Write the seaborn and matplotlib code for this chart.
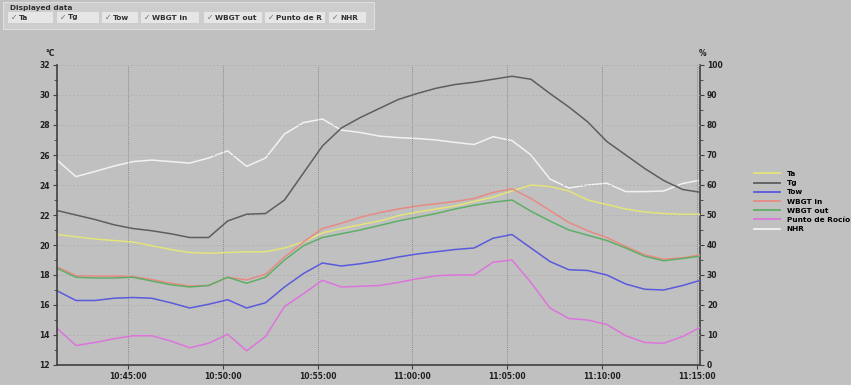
import numpy as np
import pandas as pd
import matplotlib
matplotlib.use("Agg")
import matplotlib.pyplot as plt
import matplotlib.dates as mdates
from matplotlib.lines import Line2D
from matplotlib.patches import Rectangle
import seaborn as sns

# Time axis: one reading per minute
times = pd.date_range("2020-01-01 10:41:15", "2020-01-01 11:15:15", freq="1min")

ta = [20.7, 20.55, 20.4, 20.3, 20.2, 19.95, 19.7, 19.5, 19.45, 19.5, 19.55, 19.55,
      19.8, 20.2, 20.8, 21.1, 21.35, 21.6, 21.95, 22.2, 22.4, 22.6, 22.9, 23.2,
      23.6, 24.0, 23.9, 23.6, 23.0, 22.7, 22.4, 22.2, 22.1, 22.05, 22.05]
tg = [22.3, 22.0, 21.7, 21.35, 21.1, 20.95, 20.75, 20.5, 20.5, 21.6, 22.05, 22.1,
      23.0, 24.8, 26.6, 27.8, 28.5, 29.1, 29.7, 30.1, 30.45, 30.7, 30.85, 31.05,
      31.25, 31.05, 30.1, 29.2, 28.2, 26.9, 26.0, 25.1, 24.3, 23.7, 23.5]
tow = [16.95, 16.3, 16.3, 16.45, 16.5, 16.45, 16.15, 15.8, 16.05, 16.35, 15.8, 16.15,
       17.2, 18.1, 18.8, 18.6, 18.75, 18.95, 19.2, 19.4, 19.55, 19.7, 19.8, 20.45,
       20.7, 19.8, 18.9, 18.35, 18.3, 18.0, 17.4, 17.05, 17.0, 17.3, 17.67]
wbgt_in = [18.55, 17.95, 17.93, 17.93, 17.9, 17.7, 17.45, 17.27, 17.3, 17.85, 17.67, 18.05,
           19.2, 20.2, 21.1, 21.45, 21.85, 22.15, 22.4, 22.6, 22.75, 22.9, 23.1, 23.5,
           23.75, 23.1, 22.3, 21.5, 20.95, 20.5, 19.9, 19.35, 19.05, 19.15, 19.35]
wbgt_out = [18.45, 17.85, 17.8, 17.8, 17.85, 17.6, 17.35, 17.2, 17.3, 17.85, 17.45, 17.85,
            19.0, 19.95, 20.5, 20.75, 21.0, 21.3, 21.6, 21.85, 22.1, 22.4, 22.65, 22.85,
            23.0, 22.25, 21.6, 21.0, 20.65, 20.3, 19.8, 19.25, 18.95, 19.1, 19.27]
rocio = [14.45, 13.3, 13.5, 13.75, 13.95, 13.95, 13.6, 13.15, 13.45, 14.05, 12.95, 13.9,
         15.9, 16.75, 17.65, 17.2, 17.25, 17.3, 17.5, 17.75, 17.95, 18.0, 18.0, 18.85,
         19.0, 17.5, 15.8, 15.1, 15.0, 14.7, 13.95, 13.5, 13.45, 13.9, 14.55]
nhr = [68.3, 62.8, 64.5, 66.3, 67.8, 68.3, 67.8, 67.3, 69.0, 71.4, 66.2, 69.0,
       77.0, 80.8, 82.0, 78.3, 77.5, 76.3, 75.8, 75.5, 75.0, 74.2, 73.5, 76.1,
       74.8, 70.0, 62.0, 59.0, 60.0, 60.6, 57.8, 57.8, 58.0, 60.5, 61.7]

temp_names = ["Ta", "Tg", "Tow", "WBGT in", "WBGT out", "Punto de Rocío"]
colors = {"Ta": "#e4e47a", "Tg": "#5e5e5e", "Tow": "#5a5adc", "WBGT in": "#e88a84",
          "WBGT out": "#5fae68", "Punto de Rocío": "#dd74dc", "NHR": "#f2f2f2"}
checkbox_labels = ["Ta", "Tg", "Tow", "WBGT in", "WBGT out", "Punto de R", "NHR"]

df = pd.DataFrame({"time": times, "Ta": ta, "Tg": tg, "Tow": tow, "WBGT in": wbgt_in,
                   "WBGT out": wbgt_out, "Punto de Rocío": rocio})
long_df = df.melt(id_vars="time", var_name="serie", value_name="valor")

bg = "#c0c0c0"
plt.rcParams["font.family"] = ["DejaVu Sans"]
fig = plt.figure(figsize=(8.51, 3.85), dpi=100, facecolor=bg)
ax = fig.add_axes([57 / 851, 20 / 385, 643 / 851, 300 / 385], facecolor=bg)

sns.lineplot(data=long_df, x="time", y="valor", hue="serie", hue_order=temp_names,
             palette=colors, linewidth=1.1, ax=ax, legend=False)

ax2 = ax.twinx()
sns.lineplot(x=times, y=nhr, color=colors["NHR"], linewidth=1.1, ax=ax2)

ax.set_xlim(times[0], pd.Timestamp("2020-01-01 11:15:10"))
ax.set_ylim(12, 32)
ax2.set_ylim(0, 100)
ax.set_xlabel("")
ax.set_ylabel("")
ax2.set_ylabel("")

ax.xaxis.set_major_locator(mdates.MinuteLocator(byminute=range(0, 60, 5)))
ax.xaxis.set_major_formatter(mdates.DateFormatter("%H:%M:%S"))
ax.set_yticks(np.arange(12, 33, 2))
ax.set_yticks(np.arange(12, 33, 1), minor=True)
ax2.set_yticks(np.arange(0, 101, 10))
ax2.set_yticks(np.arange(0, 101, 5), minor=True)

for a in (ax, ax2):
    a.tick_params(labelsize=5.5, length=3, width=0.8, color="#404040", pad=2)
    a.tick_params(which="minor", length=2, width=0.6, color="#404040")
    for lab in a.get_xticklabels() + a.get_yticklabels():
        lab.set_fontweight("bold")
        lab.set_color("#202020")
    a.spines["top"].set_visible(False)
ax.spines["right"].set_visible(False)
for s in ("left", "bottom"):
    ax.spines[s].set_color("#404040")
    ax.spines[s].set_linewidth(1.2)
ax2.spines["right"].set_color("#404040")
ax2.spines["right"].set_linewidth(1.2)
for s in ("left", "bottom"):
    ax2.spines[s].set_visible(False)

ax.grid(axis="x", color="#8c8c8c", linestyle=(0, (1, 1)), linewidth=0.7)
ax.grid(axis="y", color="#b2b2b2", linestyle=(0, (2, 2)), linewidth=0.7)
ax.set_axisbelow(True)
ax.set_zorder(ax2.get_zorder() + 1)
ax.patch.set_visible(False)
ax2.patch.set_facecolor(bg)

fig.text(50 / 851, 1 - 53 / 385, "°C", fontsize=5.5, fontweight="bold", color="#202020",
         ha="center", va="center")
fig.text(703 / 851, 1 - 53 / 385, "%", fontsize=5.5, fontweight="bold", color="#202020",
         ha="center", va="center")

# Legend at the right
handles = [Line2D([], [], color=colors[n], linewidth=1.3) for n in temp_names + ["NHR"]]
fig.legend(handles, temp_names + ["NHR"], loc="upper left",
           bbox_to_anchor=(750 / 851, 1 - 167 / 385), frameon=False,
           prop={"size": 5.3, "weight": "bold"}, handlelength=3.6, handletextpad=0.9,
           labelspacing=0.42, borderpad=0)

# "Displayed data" panel at the top
fig.add_artist(Rectangle((3 / 851, 1 - 29 / 385), 371 / 851, 27 / 385,
                         transform=fig.transFigure, facecolor="#cdcdcd",
                         edgecolor="#dedede", linewidth=0.8))
fig.text(10 / 851, 1 - 8 / 385, "Displayed data", fontsize=5.3, fontweight="bold",
         color="#303030", va="center")
box_x = [8, 57, 102, 141, 204, 265, 329]
box_w = [45, 42, 36, 58, 58, 60, 37]
for x0, w, lab in zip(box_x, box_w, checkbox_labels):
    fig.add_artist(Rectangle((x0 / 851, 1 - 23 / 385), w / 851, 11 / 385,
                             transform=fig.transFigure, facecolor="#e6e6e6",
                             edgecolor="none"))
    fig.text((x0 + 3) / 851, 1 - 17.5 / 385, "✓", fontsize=5.5, color="#707070",
             va="center")
    fig.text((x0 + 11) / 851, 1 - 17.5 / 385, lab, fontsize=5.3, fontweight="bold",
             color="#303030", va="center")

fig.savefig("out.png", dpi=100, facecolor=bg)
